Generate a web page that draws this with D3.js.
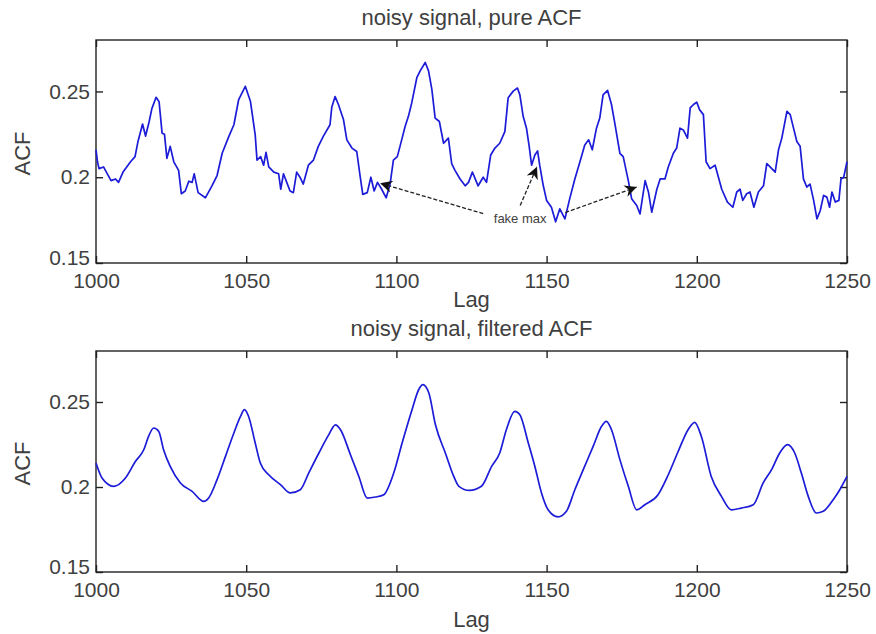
<!DOCTYPE html>
<html>
<head>
<meta charset="utf-8">
<script src="https://cdn.jsdelivr.net/npm/d3@7"></script>
<style>
  body { margin: 0; background: #fff; }
  svg { display: block; }
  .tick text, .lbl { font-family: "Liberation Sans", Arial, sans-serif; fill: #404040; }
</style>
</head>
<body>
<div id="chart"></div>
<script>
// lag values
const xTicks = [1000, 1050, 1100, 1150, 1200, 1250];
const yTicks = [0.15, 0.2, 0.25];
const yTickLabels = ["0.15", "0.2", "0.25"];

// top panel: noisy signal, pure ACF
const pureLag = [1000, 1000.5, 1001, 1002.5, 1005, 1006.5, 1007.5, 1009, 1011.5, 1013, 1014, 1015.5, 1016.5, 1017.7, 1018.6, 1020, 1021, 1022, 1022.8, 1023.6, 1024.7, 1025.9, 1027.5, 1028.4, 1029.7, 1030.9, 1032, 1032.7, 1034, 1036.4, 1038.6, 1040.3, 1042, 1044.2, 1045.9, 1047.5, 1049.7, 1051.4, 1053, 1053.6, 1054.8, 1055.8, 1056.6, 1057.5, 1059.2, 1060.8, 1061.5, 1062.4, 1063.5, 1064.6, 1065.7, 1066.8, 1067.9, 1069, 1070.7, 1072.4, 1074, 1075.7, 1077.9, 1078.5, 1079.6, 1080.7, 1082.4, 1083.5, 1085.2, 1086.8, 1087.9, 1088.8, 1090.3, 1091.5, 1092.6, 1093.7, 1095.1, 1096.6, 1097.9, 1099, 1100.3, 1101.2, 1102.9, 1104, 1105.1, 1106.8, 1107.9, 1109.6, 1110.7, 1111.8, 1112.9, 1114.3, 1115.7, 1117.3, 1118.4, 1119.5, 1121.2, 1122.9, 1124, 1125.3, 1127.2, 1128.9, 1130, 1131.4, 1132.8, 1134.4, 1136.1, 1137.2, 1138.9, 1140.3, 1141.1, 1142.2, 1143.3, 1144.2, 1145, 1146.1, 1147, 1147.7, 1148.9, 1150, 1151.6, 1153, 1154.4, 1156.1, 1157.7, 1159.4, 1161.1, 1162.7, 1164, 1165.2, 1166.6, 1167.7, 1168.8, 1170.3, 1171.6, 1172.7, 1174.4, 1175.5, 1177.2, 1178.3, 1180, 1181.1, 1182.8, 1183.9, 1185, 1186.7, 1187.8, 1189.4, 1190.5, 1192.2, 1193.3, 1194.4, 1195.5, 1196.9, 1197.8, 1198.9, 1200, 1200.9, 1202.2, 1203.1, 1204.4, 1206.1, 1207.2, 1208.3, 1210.2, 1212, 1213.3, 1214.4, 1215.3, 1216.6, 1217.7, 1219, 1220.5, 1222.2, 1223.3, 1224.4, 1226.1, 1227.2, 1228.3, 1230, 1231.1, 1232.2, 1233.3, 1234.4, 1235.5, 1236.6, 1237.7, 1238.9, 1240, 1241.1, 1242.2, 1243.3, 1244.2, 1245, 1246.1, 1247.3, 1248, 1248.9, 1250];
const pureAcf = [0.216, 0.209, 0.205, 0.206, 0.198, 0.199, 0.197, 0.203, 0.209, 0.212, 0.221, 0.231, 0.224, 0.2325, 0.240, 0.2466, 0.244, 0.2257, 0.225, 0.211, 0.218, 0.209, 0.204, 0.1904, 0.192, 0.1977, 0.197, 0.202, 0.191, 0.188, 0.195, 0.201, 0.214, 0.2237, 0.2306, 0.2453, 0.253, 0.2443, 0.2247, 0.210, 0.212, 0.207, 0.2145, 0.206, 0.203, 0.202, 0.193, 0.202, 0.197, 0.192, 0.191, 0.203, 0.200, 0.196, 0.207, 0.210, 0.218, 0.224, 0.2306, 0.241, 0.247, 0.2424, 0.2335, 0.2218, 0.217, 0.215, 0.201, 0.190, 0.191, 0.200, 0.192, 0.197, 0.193, 0.188, 0.196, 0.210, 0.212, 0.218, 0.2296, 0.2355, 0.2433, 0.258, 0.262, 0.2669, 0.262, 0.2512, 0.2345, 0.2325, 0.2198, 0.2228, 0.208, 0.204, 0.199, 0.195, 0.197, 0.203, 0.195, 0.200, 0.197, 0.213, 0.217, 0.2198, 0.2266, 0.2463, 0.2502, 0.252, 0.248, 0.2355, 0.2286, 0.218, 0.207, 0.213, 0.2153, 0.207, 0.195, 0.1865, 0.1825, 0.174, 0.1816, 0.1757, 0.1875, 0.199, 0.209, 0.2188, 0.2218, 0.216, 0.2286, 0.2345, 0.248, 0.2506, 0.2424, 0.2316, 0.2139, 0.212, 0.198, 0.1875, 0.1835, 0.1786, 0.198, 0.1914, 0.1796, 0.193, 0.199, 0.199, 0.206, 0.214, 0.217, 0.2286, 0.2276, 0.2228, 0.2404, 0.2424, 0.2437, 0.2394, 0.2365, 0.209, 0.205, 0.207, 0.200, 0.193, 0.1855, 0.1825, 0.1914, 0.193, 0.1865, 0.1904, 0.1914, 0.1825, 0.1914, 0.195, 0.208, 0.206, 0.203, 0.216, 0.2228, 0.2384, 0.2365, 0.2286, 0.2208, 0.218, 0.199, 0.1943, 0.196, 0.1865, 0.1757, 0.1806, 0.1894, 0.1884, 0.1825, 0.1914, 0.1855, 0.1865, 0.199, 0.200, 0.209];

// bottom panel: noisy signal, filtered ACF
const filtLag = [1000, 1002, 1005.9, 1009.8, 1013.1, 1015.9, 1017.5, 1019.2, 1020.9, 1022.5, 1024.7, 1028.1, 1032, 1035.9, 1037.5, 1040.3, 1043.1, 1045.9, 1048.1, 1049.4, 1050.8, 1053, 1054.7, 1057.5, 1061.4, 1064.7, 1068, 1070.8, 1074.2, 1077.5, 1079.7, 1081.4, 1084.7, 1087.5, 1090.3, 1093, 1095.8, 1099.1, 1101.9, 1105.2, 1107.4, 1108.8, 1110.8, 1113, 1116.3, 1119.1, 1120.8, 1124.3, 1128.3, 1131.7, 1134.4, 1136.6, 1139.4, 1141.1, 1143.9, 1146.1, 1148.3, 1150.5, 1153.8, 1156.6, 1159.4, 1162.2, 1165.5, 1168.3, 1169.9, 1171.6, 1174.4, 1177.2, 1180, 1182.7, 1187.1, 1190.5, 1193.8, 1197.1, 1199.3, 1201.5, 1204.8, 1208.2, 1211.5, 1214.8, 1218.8, 1222.1, 1224.9, 1227.6, 1230.2, 1232.6, 1234.8, 1237.1, 1239.8, 1242.1, 1245.4, 1247.6, 1250];
const filtAcf = [0.2141, 0.2053, 0.2004, 0.2053, 0.215, 0.2219, 0.2298, 0.2347, 0.2327, 0.2219, 0.2121, 0.2024, 0.1974, 0.1915, 0.1935, 0.2043, 0.218, 0.2318, 0.2415, 0.2455, 0.2415, 0.2259, 0.2141, 0.2072, 0.2014, 0.1965, 0.1984, 0.2082, 0.220, 0.2308, 0.2366, 0.2337, 0.219, 0.2062, 0.1935, 0.1941, 0.1955, 0.2082, 0.2259, 0.2455, 0.2572, 0.2602, 0.2553, 0.2366, 0.220, 0.2062, 0.2004, 0.198, 0.2004, 0.2121, 0.220, 0.2337, 0.2445, 0.2425, 0.2259, 0.2121, 0.1965, 0.1866, 0.1824, 0.1857, 0.1984, 0.2102, 0.2239, 0.2357, 0.2386, 0.2337, 0.2161, 0.2004, 0.1866, 0.1896, 0.1955, 0.2072, 0.2209, 0.2337, 0.238, 0.2298, 0.2062, 0.1945, 0.1866, 0.1876, 0.1896, 0.2024, 0.2102, 0.220, 0.2249, 0.220, 0.2082, 0.1945, 0.1847, 0.1857, 0.1925, 0.1984, 0.2062];

// "fake max" annotation, in data units: [tailLag, tailAcf, headLag, headAcf]
const fakeMaxText = { lag: 1141.2, acf: 0.1762, label: "fake max" };
const fakeMaxArrows = [
  [1128.9, 0.1788, 1094.6, 0.1965],
  [1141.2, 0.1835, 1146.8, 0.2061],
  [1156.2, 0.1794, 1180.0, 0.1943]
];

const W = 876, H = 634;
const svg = d3.select("#chart").append("svg").attr("width", W).attr("height", H);
svg.append("rect").attr("width", W).attr("height", H).attr("fill", "#fff");

svg.append("defs").append("marker")
  .attr("id", "head")
  .attr("viewBox", "0 0 10 10")
  .attr("refX", 10).attr("refY", 5)
  .attr("markerWidth", 15).attr("markerHeight", 12)
  .attr("markerUnits", "userSpaceOnUse")
  .attr("orient", "auto")
  .append("path").attr("d", "M0,0 L10,5 L0,10 L3,5 Z").attr("fill", "#111");

const left = 96, right = 847;
const x = d3.scaleLinear().domain([1000, 1250]).range([left, right]);

function panel(top, bottom, lags, vals, title, opts) {
  const y = d3.scaleLinear().domain([0.15, 0.28]).range([bottom, top]);
  const g = svg.append("g");
  const fmtY = d => yTickLabels[yTicks.indexOf(d)];

  g.append("g").attr("transform", `translate(0,${bottom})`)
    .call(d3.axisBottom(x).tickValues(xTicks).tickSize(-7).tickSizeOuter(0).tickPadding(10).tickFormat(d3.format("d")));
  g.append("g").attr("transform", `translate(0,${top})`)
    .call(d3.axisTop(x).tickValues(xTicks).tickSize(-7).tickSizeOuter(0).tickFormat(""));
  const ly = g.append("g").attr("transform", `translate(${left},0)`)
    .call(d3.axisLeft(y).tickValues(yTicks).tickSize(-7).tickSizeOuter(0).tickPadding(6).tickFormat(fmtY));
  g.append("g").attr("transform", `translate(${right},0)`)
    .call(d3.axisRight(y).tickValues(yTicks).tickSize(-7).tickSizeOuter(0).tickFormat(""));

  g.selectAll(".domain").remove();
  g.selectAll(".tick line").attr("stroke", "#222").attr("stroke-width", 1.4);
  g.selectAll(".tick text").attr("font-size", 21).attr("fill", "#404040");
  // lift the lowest y label a little so it clears the first x label
  ly.selectAll(".tick text").filter(d => d === 0.15).attr("dy", "0.05em");

  g.append("rect").attr("x", left).attr("y", top)
    .attr("width", right - left).attr("height", bottom - top)
    .attr("fill", "none").attr("stroke", "#222").attr("stroke-width", 1.4);

  const line = d3.line().x((d, i) => x(lags[i])).y(d => y(d)).curve(opts.curve);
  g.append("path").datum(vals).attr("d", line)
    .attr("fill", "none").attr("stroke", "#1c1cd8").attr("stroke-width", 1.7)
    .attr("stroke-linejoin", "round");

  g.append("text").attr("class", "lbl").attr("x", (left + right) / 2).attr("y", top - 15)
    .attr("text-anchor", "middle").attr("font-size", 22).text(title);
  g.append("text").attr("class", "lbl").attr("x", (left + right) / 2).attr("y", bottom + opts.lagDy)
    .attr("text-anchor", "middle").attr("font-size", 22).text("Lag");
  g.append("text").attr("class", "lbl")
    .attr("transform", `translate(30,${(top + bottom) / 2 + 2}) rotate(-90)`)
    .attr("text-anchor", "middle").attr("font-size", 22).text("ACF");
  return y;
}

const y1 = panel(40, 263, pureLag, pureAcf, "noisy signal, pure ACF", { curve: d3.curveLinear, lagDy: 44 });
panel(351, 572, filtLag, filtAcf, "noisy signal, filtered ACF", { curve: d3.curveMonotoneX, lagDy: 55 });

svg.selectAll(".arrow").data(fakeMaxArrows).enter().append("line")
  .attr("class", "arrow")
  .attr("x1", d => x(d[0])).attr("y1", d => y1(d[1]))
  .attr("x2", d => x(d[2])).attr("y2", d => y1(d[3]))
  .attr("stroke", "#222").attr("stroke-width", 1.3).attr("stroke-dasharray", "4 2")
  .attr("marker-end", "url(#head)");

svg.append("text").attr("class", "lbl")
  .attr("x", x(fakeMaxText.lag)).attr("y", y1(fakeMaxText.acf) + 5)
  .attr("text-anchor", "middle").attr("font-size", 13).attr("fill", "#333")
  .text(fakeMaxText.label);
</script>
</body>
</html>
